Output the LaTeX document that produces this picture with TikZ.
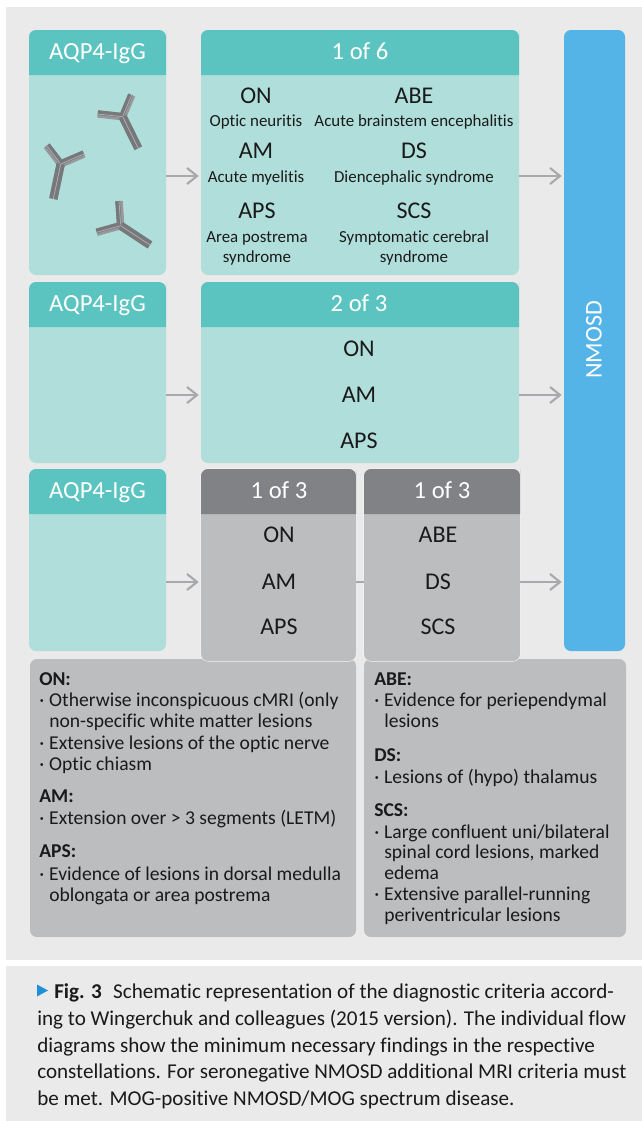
\documentclass[tikz,border=0pt]{standalone}
\usepackage{fontspec}
\setmainfont{Carlito}[Ligatures=NoCommon]
\usetikzlibrary{arrows.meta,calc}
\definecolor{panelbg}{HTML}{EAEAEA}
\definecolor{tealhead}{HTML}{5CC4C0}
\definecolor{tealbody}{HTML}{B0DFDB}
\definecolor{bluebar}{HTML}{54B3E7}
\definecolor{greyhead}{HTML}{808285}
\definecolor{greybody}{HTML}{BCBDBF}
\definecolor{arrowgrey}{HTML}{A7A9AC}
\definecolor{ink}{HTML}{1A1A1A}
\definecolor{tri}{HTML}{1F8FD8}
\definecolor{abdark}{HTML}{77787B}
\definecolor{ablight}{HTML}{98999C}
\definecolor{abcorecol}{HTML}{ABADAF}
\newcommand{\fpx}[1]{\fontsize{\fpeval{#1*0.75}}{#1}\selectfont}
\newcommand{\cardbox}[8]{% name x1 y1 yh x2 y2 bodycol headcol
  \path[fill=#7,rounded corners=5.25pt] (#2,#3) rectangle (#5,#6);
  \path[fill=#8,rounded corners=5.25pt] (#2,#4) [sharp corners] -- (#2,#3+7) [rounded corners=5.25pt] -- (#2,#3) -- (#5,#3) -- (#5,#3+7) [sharp corners] -- (#5,#4) -- cycle;
  \node[inner sep=0,minimum width={(#5-#2)*0.75pt},minimum height={(#6-#3)*0.75pt}] (#1) at ({(#2+#5)/2},{(#3+#6)/2}) {};
}
\newcommand{\abarmdraw}[3]{% hub, end, angle sign toward the inner side
  \pgfmathsetmacro\abother{-1*#3}
  \draw[abouter] (#1) -- (#2);
  \draw[abinner] ($(#1)!1pt!#3:(#2)$) -- ($(#2)!1pt!\abother:(#1)$);
  \draw[abcore] (#1) -- (#2);
}
\newcommand{\antibody}[9]{% hub, arm1, arm2, stem, sign
  \coordinate (abh) at (#1,#2);
  \coordinate (abe1) at (#3,#4);
  \coordinate (abe2) at (#5,#6);
  \coordinate (abe3) at (#7,#8);
  \pgfmathsetmacro\abflip{-1*#9}
  \abarmdraw{abh}{abe1}{#9}
  \abarmdraw{abh}{abe2}{\abflip}
  \draw[abstem] (abh) -- (abe3);
  \draw[abcore] (abh) -- (abe3);
}
\tikzset{
  flow/.style={arrowgrey,line width=1.6pt,-{Straight Barb[length=7.5pt,width=12pt,line width=1.6pt]}},
  abouter/.style={ablight,line width=5.6pt},
  abinner/.style={abdark,line width=3.6pt},
  abstem/.style={abdark,line width=6.4pt},
  abcore/.style={abcorecol,line width=0.6pt},
  cardhead/.style={anchor=base,inner sep=0,text=white,font=\fpx{24.6}},
  acro/.style={anchor=base,inner sep=0,text=ink,font=\fpx{24}},
  smalltxt/.style={anchor=base,inner sep=0,text=ink,font=\fpx{16.9}},
  bodytxt/.style={anchor=base west,inner sep=0,text=ink,font=\fpx{19.6}},
  captxt/.style={anchor=base west,inner sep=0,text=ink,font=\fpx{21.1}},
}
\newcommand{\dotitem}[1]{\makebox[7.5pt][l]{·}#1}
\begin{document}
\begin{tikzpicture}[x=0.75pt,y=-0.75pt]
\useasboundingbox (0,0) rectangle (642,1121);
\fill[white] (0,0) rectangle (642,1121);
\fill[panelbg] (6,7) rectangle (642,960);
\fill[panelbg] (6,966) rectangle (642,1121);

% lower explanation panels
\node[fill=greybody,rounded corners=5.25pt,inner sep=0,minimum width=244.5pt,minimum height=208.5pt] (lowL) at (193,798) {};
\node[fill=greybody,rounded corners=5.25pt,inner sep=0,minimum width=196.5pt,minimum height=208.5pt] (lowR) at (495,798) {};

% boxes
\cardbox{lt1}{29}{30}{75}{166}{275}{tealbody}{tealhead}
\cardbox{mid1}{201}{30}{75}{519}{275}{tealbody}{tealhead}
\cardbox{lt2}{29}{282}{327}{166}{463}{tealbody}{tealhead}
\cardbox{mid2}{201}{282}{327}{519}{463}{tealbody}{tealhead}
\cardbox{lt3}{29}{469}{514}{166}{651}{tealbody}{tealhead}
\draw[white!85!panelbg,line width=0.75pt,rounded corners=5.25pt] (201,469) rectangle (356,661);
\draw[white!85!panelbg,line width=0.75pt,rounded corners=5.25pt] (364,469) rectangle (520,661);
\cardbox{gr1}{201}{469}{514}{356}{661}{greybody}{greyhead}
\cardbox{gr2}{364}{469}{514}{520}{661}{greybody}{greyhead}
\node[fill=bluebar,rounded corners=5.25pt,inner sep=0,minimum width=45.75pt,minimum height=465.75pt] (nmosd) at (594.5,340.5) {};
\node[rotate=90,inner sep=0,text=white,font=\fpx{24}] (nmosdlab) at (594,340) {NMOSD};

% connectors
\coordinate (r1) at (0,176);
\coordinate (r2) at (0,395);
\coordinate (r3) at (0,582);
\draw[flow] (lt1.east |- r1) -- ([xshift=-1.5pt]mid1.west |- r1);
\draw[flow] (mid1.east |- r1) -- ([xshift=-1.5pt]nmosd.west |- r1);
\draw[flow] (lt2.east |- r2) -- ([xshift=-1.5pt]mid2.west |- r2);
\draw[flow] (mid2.east |- r2) -- ([xshift=-1.5pt]nmosd.west |- r2);
\draw[flow] (lt3.east |- r3) -- ([xshift=-1.5pt]gr1.west |- r3);
\draw[arrowgrey,line width=1.6pt] (gr1.east |- r3) -- (gr2.west |- r3);
\draw[flow] (gr2.east |- r3) -- ([xshift=-1.5pt]nmosd.west |- r3);

% antibodies
\antibody{122.7}{116.7}{131.7}{95}{97.7}{114}{138.3}{148.3}{90}
\antibody{60.7}{164}{46.7}{145.7}{84}{154}{53.3}{199}{-90}
\antibody{120.7}{225.7}{119}{201}{96.7}{232.3}{150}{245}{90}

% headers
\node[cardhead] (h1) at (97.5,59) {AQP4-IgG};
\node[cardhead] (h2) at (97.5,311) {AQP4-IgG};
\node[cardhead] (h3) at (97.5,498) {AQP4-IgG};
\node[cardhead] (h4) at (360,59) {1 of 6};
\node[cardhead] (h5) at (359,311) {2 of 3};
\node[cardhead] (h6) at (279,498) {1 of 3};
\node[cardhead] (h7) at (442,498) {1 of 3};

% box 1 contents
\node[acro] (a1) at (256,103) {ON};
\node[smalltxt] (s1) at (256,126) {Optic neuritis};
\node[acro] (a2) at (256,158) {AM};
\node[smalltxt] (s2) at (256,182) {Acute myelitis};
\node[acro] (a3) at (257,218.5) {APS};
\node[smalltxt] (s3) at (257,242) {Area postrema};
\node[smalltxt] (s4) at (257,262) {syndrome};
\node[acro] (a4) at (414,103) {ABE};
\node[smalltxt] (s5) at (414,126) {Acute brainstem encephalitis};
\node[acro] (a5) at (414,158) {DS};
\node[smalltxt] (s6) at (414,182) {Diencephalic syndrome};
\node[acro] (a6) at (414,218.5) {SCS};
\node[smalltxt] (s7) at (414,242) {Symptomatic cerebral};
\node[smalltxt] (s8) at (414,262) {syndrome};

% box 2 and 3 contents
\node[acro] (b1) at (359,356) {ON};
\node[acro] (b2) at (359,402) {AM};
\node[acro] (b3) at (359,448) {APS};
\node[acro] (c1) at (279,542.5) {ON};
\node[acro] (c2) at (279,589) {AM};
\node[acro] (c3) at (279,634.5) {APS};
\node[acro] (c4) at (438,542.5) {ABE};
\node[acro] (c5) at (438,589) {DS};
\node[acro] (c6) at (438,634.5) {SCS};

% lower left text
\node[bodytxt] (l1) at (39,685) {\textbf{ON:}};
\node[bodytxt] (l2) at (39,706) {\dotitem{Otherwise inconspicuous cMRI (only}};
\node[bodytxt] (l3) at (49,727) {non-specific white matter lesions};
\node[bodytxt] (l4) at (39,749) {\dotitem{Extensive lesions of the optic nerve}};
\node[bodytxt] (l5) at (39,770) {\dotitem{Optic chiasm}};
\node[bodytxt] (l6) at (39,802) {\textbf{AM:}};
\node[bodytxt] (l7) at (39,824) {\dotitem{Extension over > 3 segments (LETM)}};
\node[bodytxt] (l8) at (39,857) {\textbf{APS:}};
\node[bodytxt] (l9) at (39,880) {\dotitem{Evidence of lesions in dorsal medulla}};
\node[bodytxt] (l10) at (49,901) {oblongata or area postrema};

% lower right text
\node[bodytxt] (m1) at (374,685) {\textbf{ABE:}};
\node[bodytxt] (m2) at (374,706) {\dotitem{Evidence for periependymal}};
\node[bodytxt] (m3) at (384,727) {lesions};
\node[bodytxt] (m4) at (374,761) {\textbf{DS:}};
\node[bodytxt] (m5) at (374,783) {\dotitem{Lesions of (hypo) thalamus}};
\node[bodytxt] (m6) at (374,816) {\textbf{SCS:}};
\node[bodytxt] (m7) at (374,838) {\dotitem{Large confluent uni/bilateral}};
\node[bodytxt] (m8) at (384,858) {spinal cord lesions, marked};
\node[bodytxt] (m9) at (384,879) {edema};
\node[bodytxt] (m10) at (374,900) {\dotitem{Extensive parallel-running}};
\node[bodytxt] (m11) at (384,921) {periventricular lesions};

% caption
\fill[tri] (37,984.5) -- (48,990.5) -- (37,996.5) -- cycle;
\node[captxt] (cp1) at (54,998) {\textbf{Fig. 3}\hspace{8.5pt}Schematic representation of the diagnostic criteria accord-};
\node[captxt] (cp2) at (37,1025) {ing to Wingerchuk and colleagues (2015 version). The individual flow};
\node[captxt] (cp3) at (37,1052) {diagrams show the minimum necessary findings in the respective};
\node[captxt] (cp4) at (37,1078) {constellations. For seronegative NMOSD additional MRI criteria must};
\node[captxt] (cp5) at (37,1105) {be met. MOG-positive NMOSD/MOG spectrum disease.};
\end{tikzpicture}
\end{document}
